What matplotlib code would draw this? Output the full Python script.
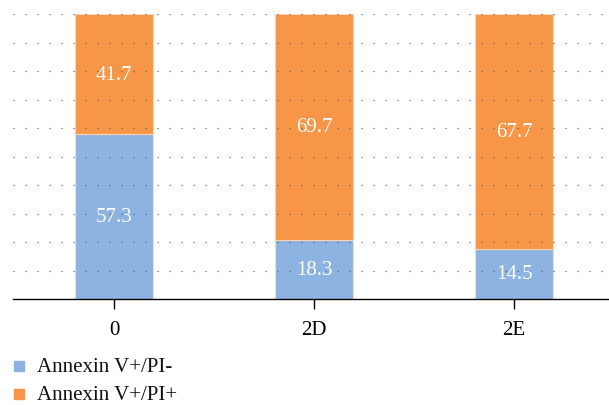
import matplotlib
matplotlib.use("Agg")
import matplotlib.pyplot as plt
import numpy as np
from matplotlib.lines import Line2D

categories = ["0", "2D", "2E"]
pi_neg = [57.3, 18.3, 14.5]
pi_pos = [41.7, 69.7, 67.7]
series_names = ["Annexin V+/PI-", "Annexin V+/PI+"]
colors = ["#8DB3E2", "#F79646"]

plt.rcParams['font.family'] = ['Liberation Serif', 'DejaVu Serif']

W, H = 609, 406
fig = plt.figure(figsize=(W/100, H/100), dpi=100)
ax = fig.add_axes([13/W, 1-300/H, 596/W, 285/H])

neg = np.array(pi_neg)
pos = np.array(pi_pos)
tot = neg + pos
neg_pct = neg / tot * 100
pos_pct = pos / tot * 100
x = np.arange(len(categories))
w = 0.39
ax.bar(x, neg_pct, width=w, color=colors[0], edgecolor="#D6E3F3", linewidth=0.8, zorder=2)
ax.bar(x, pos_pct, width=w, bottom=neg_pct, color=colors[1], edgecolor="#FBD3B3", linewidth=0.8, zorder=2)

for i in range(len(categories)):
    ax.text(x[i], neg_pct[i]/2, f"{pi_neg[i]:.1f}", ha="center", va="center",
            color="white", fontsize=15, zorder=4)
    ax.text(x[i], neg_pct[i] + pos_pct[i]/2, f"{pi_pos[i]:.1f}", ha="center", va="center",
            color="white", fontsize=15, zorder=4)

ax.set_xlim(-0.505, 2.475)
ax.set_ylim(0, 100)
ax.set_yticks(np.arange(10, 101, 10))
ax.yaxis.grid(True, linestyle=(0, (1, 8.6)), color="#666666", linewidth=0.9, zorder=3)
ax.set_axisbelow(False)
ax.tick_params(axis="y", left=False, labelleft=False)
ax.set_xticks(x)
ax.set_xticklabels(categories, fontsize=15)
ax.tick_params(axis="x", length=7, width=1, pad=8)
for s in ["top", "right", "left"]:
    ax.spines[s].set_visible(False)
ax.spines["bottom"].set_linewidth(1.0)

# legend, laid out by hand below the axes
marker_y = [367, 395]
text_base = [372, 400]
for c, name, my, ty in zip(colors, series_names, marker_y, text_base):
    fig.add_artist(Line2D([19/W], [1-my/H], marker="s", linestyle="none", markersize=7.5,
                          markerfacecolor=c, markeredgecolor=c, transform=fig.transFigure))
    fig.text(37/W, 1-ty/H, name, fontsize=15, ha="left", va="baseline", color="#111111")

fig.savefig("out.png", dpi=100)
